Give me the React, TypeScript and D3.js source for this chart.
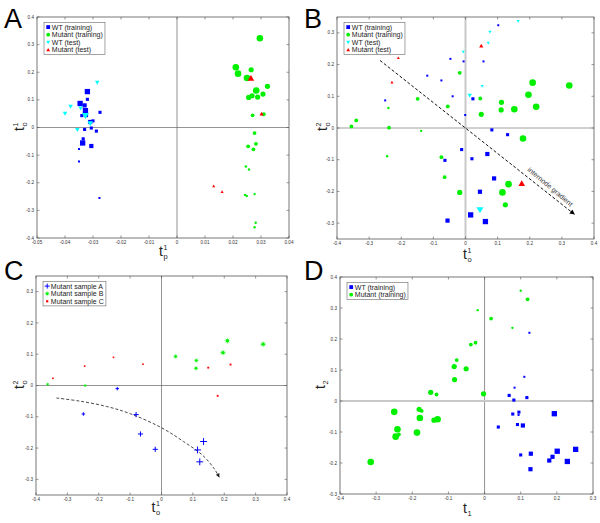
import { useEffect, useRef } from 'react';
import * as d3 from 'd3';

// [x, y, weight level 1..4] -- weight is drawn as marker size
type Pt = [number, number, number];
type Shape = 'square' | 'circle' | 'triDown' | 'triUp' | 'plus' | 'star' | 'dot';

// ---- Panel A ----
const aWtTrain: Pt[] = [
  [-0.032, 0.13, 4], [-0.032, 0.102, 2], [-0.0346, 0.087, 4], [-0.033, 0.08, 3],
  [-0.0327, 0.061, 4], [-0.034, 0.043, 2], [-0.0275, 0.055, 2], [-0.03, 0.024, 2],
  [-0.031, 0.02, 3], [-0.033, -0.007, 2], [-0.0306, -0.002, 2], [-0.0288, -0.013, 2],
  [-0.0337, -0.056, 4], [-0.0335, -0.041, 2], [-0.0306, -0.067, 3], [-0.035, -0.078, 1],
  [-0.035, -0.123, 1], [-0.0277, -0.255, 1], [-0.0325, 0.045, 3],
];
const aMutTrain: Pt[] = [
  [0.0296, 0.323, 4], [0.021, 0.218, 4], [0.0218, 0.195, 4], [0.0265, 0.209, 3],
  [0.025, 0.179, 4], [0.0323, 0.149, 3], [0.0283, 0.134, 4], [0.0307, 0.121, 3],
  [0.0268, 0.115, 3], [0.0288, 0.11, 3], [0.0256, 0.109, 3], [0.027, 0.044, 2],
  [0.031, 0.048, 2], [0.0277, -0.02, 2], [0.0282, -0.059, 2], [0.0254, -0.068, 2],
  [0.0273, -0.079, 2], [0.0246, -0.141, 1], [0.0257, -0.152, 1], [0.0243, -0.244, 1],
  [0.0249, -0.248, 1], [0.0277, -0.241, 1], [0.0281, -0.345, 1], [0.0277, -0.361, 1],
];
const aWtTest: Pt[] = [
  [-0.0285, 0.163, 2], [-0.038, 0.076, 2], [-0.04, 0.051, 2], [-0.0344, 0.07, 2],
  [-0.0327, 0.043, 4], [-0.031, 0.015, 3], [-0.0356, -0.008, 2],
];
const aMutTest: Pt[] = [
  [0.0264, 0.178, 4], [0.0302, 0.049, 2], [0.0131, -0.212, 1], [0.0161, -0.233, 1],
];

// ---- Panel B ----
const bWtTrain: Pt[] = [
  [0.102, 0.324, 1], [-0.047, 0.218, 1], [-0.006, 0.21, 1], [0.056, 0.21, 1],
  [-0.119, 0.165, 1], [-0.075, 0.15, 1], [-0.04, 0.1, 1], [-0.25, 0.087, 1],
  [0.023, 0.092, 2], [-0.001, 0.041, 1], [0.082, -0.006, 2], [0.131, -0.021, 2],
  [-0.012, -0.068, 2], [0.02, -0.097, 2], [-0.064, -0.102, 2], [0.068, -0.082, 3],
  [0.089, -0.159, 3], [0.045, -0.201, 3], [-0.056, -0.292, 3], [0.016, -0.274, 4],
  [0.062, -0.295, 4],
];
const bMutTrain: Pt[] = [
  [0.323, 0.134, 4], [0.209, 0.143, 4], [0.196, 0.105, 4], [0.22, 0.067, 4],
  [0.112, 0.081, 3], [0.111, 0.057, 3], [0.152, 0.059, 4], [0.046, 0.093, 2],
  [0.049, 0.043, 3], [-0.018, 0.174, 2], [-0.055, 0.068, 2], [-0.149, 0.092, 2],
  [-0.24, 0.063, 1], [-0.34, 0.024, 2], [-0.355, 0.005, 2], [-0.238, 0.001, 2],
  [-0.138, -0.009, 1], [-0.244, -0.089, 1], [-0.075, -0.092, 2], [-0.065, -0.155, 2],
  [0.179, -0.033, 4], [-0.018, -0.203, 3], [0.134, -0.177, 4], [0.115, -0.203, 4],
  [0.124, -0.242, 3],
];
const bWtTest: Pt[] = [
  [0.164, 0.337, 1], [0.076, 0.303, 1], [0.071, 0.268, 1], [-0.007, 0.24, 1],
  [0.052, 0.132, 1], [0.013, 0.103, 2], [0.045, -0.258, 4],
];
const bMutTest: Pt[] = [
  [0.049, 0.259, 2], [-0.209, 0.221, 1], [-0.229, 0.144, 1], [0.175, -0.175, 4],
];
const bArrow: [number, number][] = [[-0.266, 0.213], [0.339, -0.272]];

// ---- Panel C ----
const cSampleA: Pt[] = [
  [-0.141, -0.01, 1], [-0.249, -0.091, 1], [-0.081, -0.093, 2], [-0.067, -0.155, 2],
  [-0.02, -0.204, 2], [0.115, -0.206, 3], [0.134, -0.179, 3], [0.122, -0.244, 3],
];
const cSampleB: Pt[] = [
  [-0.363, 0.004, 1], [-0.243, 0.0, 1], [0.045, 0.093, 2], [0.111, 0.08, 2],
  [0.11, 0.055, 2], [0.196, 0.105, 3], [0.21, 0.143, 3], [0.324, 0.132, 3],
];
const cSampleC: Pt[] = [
  [-0.346, 0.023, 1], [-0.245, 0.062, 1], [-0.153, 0.09, 1], [-0.059, 0.068, 1],
  [0.149, 0.057, 2], [0.22, 0.067, 2], [0.179, -0.033, 2],
];
const cCurve: [number, number][] = [
  [-0.335, -0.04], [-0.26, -0.05], [-0.175, -0.067], [-0.1, -0.09], [0, -0.135],
  [0.07, -0.179], [0.131, -0.223], [0.168, -0.266], [0.184, -0.293],
];

// ---- Panel D ----
const dWtTrain: Pt[] = [
  [0.124, 0.22, 1], [0.11, 0.078, 1], [0.083, 0.043, 1], [0.068, 0.018, 2],
  [0.081, 0.003, 2], [0.117, 0.011, 2], [0.078, -0.042, 2], [0.095, -0.036, 2],
  [0.094, -0.045, 1], [0.038, -0.084, 2], [0.091, -0.076, 2], [0.106, -0.079, 3],
  [0.193, -0.041, 4], [0.1, -0.174, 2], [0.128, -0.17, 3], [0.179, -0.192, 3],
  [0.188, -0.18, 3], [0.201, -0.162, 4], [0.252, -0.156, 4], [0.229, -0.195, 4],
  [0.127, -0.22, 3],
];
const dMutTrain: Pt[] = [
  [0.1, 0.356, 1], [0.119, 0.328, 2], [-0.019, 0.293, 1], [0.018, 0.266, 2],
  [0.077, 0.236, 1], [-0.038, 0.182, 2], [-0.025, 0.188, 2], [-0.077, 0.132, 2],
  [-0.084, 0.111, 3], [-0.051, 0.104, 3], [-0.083, 0.069, 3], [-0.149, 0.028, 3],
  [-0.133, 0.021, 2], [-0.003, 0.023, 3], [-0.25, -0.035, 4], [-0.181, -0.027, 3],
  [-0.174, -0.032, 2], [-0.179, -0.055, 4], [-0.14, -0.062, 3], [-0.13, -0.059, 4],
  [-0.241, -0.091, 4], [-0.237, -0.108, 2], [-0.246, -0.115, 4], [-0.187, -0.102, 4],
  [-0.315, -0.197, 4],
];

// ticks
const ticksAX = [-0.05, -0.04, -0.03, -0.02, -0.01, 0, 0.01, 0.02, 0.03, 0.04];
const ticksAY = [-0.4, -0.3, -0.2, -0.1, 0, 0.1, 0.2, 0.3, 0.4];
const ticksBCX = [-0.4, -0.3, -0.2, -0.1, 0, 0.1, 0.2, 0.3, 0.4];
const ticksBCY = [-0.3, -0.2, -0.1, 0, 0.1, 0.2, 0.3];
const ticksDX = [-0.4, -0.3, -0.2, -0.1, 0, 0.1, 0.2, 0.3];
const ticksDY = [-0.3, -0.2, -0.1, 0, 0.1, 0.2, 0.3, 0.4];

const FONT = '"Liberation Sans", Arial, sans-serif';
const BLUE = '#0000ff';
const GREEN = '#00f000';
const CYAN = '#00ffff';
const RED = '#ff0000';

const sizeRange: Record<Shape, [number, number]> = {
  square: [2, 5.3],
  circle: [2.4, 6.6],
  triDown: [3.2, 7],
  triUp: [3, 6.6],
  plus: [3.5, 8.5],
  star: [3.2, 7.5],
  dot: [1.6, 2.4],
};

interface Series { pts: Pt[]; shape: Shape; color: string; label: string }
interface Panel {
  letter: string;
  box: [number, number, number, number];
  xDomain: [number, number];
  yDomain: [number, number];
  xTicks: number[];
  yTicks: number[];
  xLab: [string, string, string];
  yLab: [string, string, string];
  xLabPos: [number, number];
  yLabPos: [number, number];
  letterPos: [number, number];
  series: Series[];
  vLine: [string, number];
  hLine: [string, number];
}

type G = d3.Selection<SVGGElement, unknown, null, undefined>;

function marker(g: G, shape: Shape, x: number, y: number, s: number, color: string) {
  if (shape === 'square' || shape === 'dot') {
    g.append('rect').attr('x', x - s / 2).attr('y', y - s / 2)
      .attr('width', s).attr('height', s).attr('fill', color);
  } else if (shape === 'circle') {
    g.append('circle').attr('cx', x).attr('cy', y).attr('r', s / 2).attr('fill', color);
  } else if (shape === 'triDown') {
    g.append('path')
      .attr('d', `M${x - s / 2},${y - s * 0.38}L${x + s / 2},${y - s * 0.38}L${x},${y + s * 0.5}Z`)
      .attr('fill', color);
  } else if (shape === 'triUp') {
    g.append('path')
      .attr('d', `M${x - s / 2},${y + s * 0.38}L${x + s / 2},${y + s * 0.38}L${x},${y - s * 0.5}Z`)
      .attr('fill', color);
  } else if (shape === 'plus') {
    g.append('path')
      .attr('d', `M${x - s / 2},${y}H${x + s / 2}M${x},${y - s / 2}V${y + s / 2}`)
      .attr('stroke', color).attr('stroke-width', 1).attr('fill', 'none');
  } else if (shape === 'star') {
    const h = s / 2, d = s * 0.35;
    g.append('path')
      .attr('d', `M${x - h},${y}H${x + h}M${x},${y - h}V${y + h}M${x - d},${y - d}L${x + d},${y + d}M${x - d},${y + d}L${x + d},${y - d}`)
      .attr('stroke', color).attr('stroke-width', 0.6).attr('opacity', 0.7).attr('fill', 'none');
    g.append('circle').attr('cx', x).attr('cy', y).attr('r', s * 0.27).attr('fill', color);
  }
}

function axisLabel(svg: G, x: number, y: number, rot: number, lab: [string, string, string]) {
  const g = svg.append('g').attr('transform', `translate(${x},${y}) rotate(${rot})`)
    .style('font-family', FONT).attr('fill', '#222');
  g.append('text').attr('x', 1).attr('text-anchor', 'end').style('font-size', '14px').text(lab[0]);
  if (lab[1]) g.append('text').attr('x', 1.5).attr('y', 3).style('font-size', '7.5px').text(lab[1]);
  if (lab[2]) g.append('text').attr('x', 1.5).attr('y', -6).style('font-size', '7px').text(lab[2]);
}

const fmt = (d: number) => (Math.abs(d) < 1e-9 ? '0' : String(+d.toFixed(3)));

const panels: Panel[] = [
  {
    letter: 'A', box: [37, 17, 289, 238], xDomain: [-0.05, 0.04], yDomain: [-0.4, 0.4],
    xTicks: ticksAX, yTicks: ticksAY, xLab: ['t', 'p', '1'], yLab: ['t', 'o', '1'],
    xLabPos: [162, 256], yLabPos: [24, 128], letterPos: [4, 28],
    vLine: ['#666', 0.7], hLine: ['#666', 0.7],
    series: [
      { pts: aWtTrain, shape: 'square', color: BLUE, label: 'WT (training)' },
      { pts: aMutTrain, shape: 'circle', color: GREEN, label: 'Mutant (training)' },
      { pts: aWtTest, shape: 'triDown', color: CYAN, label: 'WT (test)' },
      { pts: aMutTest, shape: 'triUp', color: RED, label: 'Mutant (test)' },
    ],
  },
  {
    letter: 'B', box: [337, 17, 594, 239], xDomain: [-0.4, 0.4], yDomain: [-0.35, 0.35],
    xTicks: ticksBCX, yTicks: ticksBCY, xLab: ['t', 'o', '1'], yLab: ['t', 'o', '2'],
    xLabPos: [466, 259], yLabPos: [327, 128], letterPos: [304, 28],
    vLine: ['#c8c8c8', 2], hLine: ['#888', 0.8],
    series: [
      { pts: bWtTrain, shape: 'square', color: BLUE, label: 'WT (training)' },
      { pts: bMutTrain, shape: 'circle', color: GREEN, label: 'Mutant (training)' },
      { pts: bWtTest, shape: 'triDown', color: CYAN, label: 'WT (test)' },
      { pts: bMutTest, shape: 'triUp', color: RED, label: 'Mutant (test)' },
    ],
  },
  {
    letter: 'C', box: [36, 276, 287, 495], xDomain: [-0.4, 0.4], yDomain: [-0.35, 0.35],
    xTicks: ticksBCX, yTicks: ticksBCY, xLab: ['t', 'o', '1'], yLab: ['t', 'o', '2'],
    xLabPos: [154.5, 512], yLabPos: [24, 386], letterPos: [4, 280],
    vLine: ['#666', 0.7], hLine: ['#666', 0.7],
    series: [
      { pts: cSampleA, shape: 'plus', color: BLUE, label: 'Mutant sample A' },
      { pts: cSampleB, shape: 'star', color: GREEN, label: 'Mutant sample B' },
      { pts: cSampleC, shape: 'dot', color: RED, label: 'Mutant sample C' },
    ],
  },
  {
    letter: 'D', box: [340, 277, 593, 494], xDomain: [-0.4, 0.3], yDomain: [-0.3, 0.4],
    xTicks: ticksDX, yTicks: ticksDY, xLab: ['t', '1', ''], yLab: ['t', '2', ''],
    xLabPos: [466, 513], yLabPos: [325, 386], letterPos: [304, 280],
    vLine: ['#777', 0.8], hLine: ['#c8c8c8', 1.8],
    series: [
      { pts: dWtTrain, shape: 'square', color: BLUE, label: 'WT (training)' },
      { pts: dMutTrain, shape: 'circle', color: GREEN, label: 'Mutant (training)' },
    ],
  },
];

const App = () => {
  const ref = useRef<SVGSVGElement | null>(null);

  useEffect(() => {
    if (!ref.current) return;
    const root = d3.select(ref.current);
    root.selectAll('*').remove();
    const svg = root.append('g') as G;

    const defs = root.append('defs');
    defs.append('marker').attr('id', 'headB').attr('viewBox', '0 0 10 10')
      .attr('refX', 9).attr('refY', 5).attr('markerWidth', 7).attr('markerHeight', 5)
      .attr('markerUnits', 'userSpaceOnUse').attr('orient', 'auto')
      .append('path').attr('d', 'M0,0L10,5L0,10Z').attr('fill', '#000');
    defs.append('marker').attr('id', 'headC').attr('viewBox', '0 0 10 10')
      .attr('refX', 9).attr('refY', 5).attr('markerWidth', 5).attr('markerHeight', 4)
      .attr('markerUnits', 'userSpaceOnUse').attr('orient', 'auto')
      .append('path').attr('d', 'M0,0L10,5L0,10Z').attr('fill', '#222');

    panels.forEach((p) => {
      const [l, t, r, b] = p.box;
      const x = d3.scaleLinear().domain(p.xDomain).range([l, r]);
      const y = d3.scaleLinear().domain(p.yDomain).range([b, t]);
      const g = svg.append('g') as G;

      // frame
      g.append('rect').attr('x', l).attr('y', t).attr('width', r - l).attr('height', b - t)
        .attr('fill', '#fff');

      // zero lines
      g.append('line').attr('x1', x(0)).attr('x2', x(0)).attr('y1', t).attr('y2', b)
        .attr('stroke', p.vLine[0]).attr('stroke-width', p.vLine[1]);
      g.append('line').attr('x1', l).attr('x2', r).attr('y1', y(0)).attr('y2', y(0))
        .attr('stroke', p.hLine[0]).attr('stroke-width', p.hLine[1]);

      // annotations
      if (p.letter === 'B') {
        g.append('line')
          .attr('x1', x(bArrow[0][0])).attr('y1', y(bArrow[0][1]))
          .attr('x2', x(bArrow[1][0])).attr('y2', y(bArrow[1][1]))
          .attr('stroke', '#111').attr('stroke-width', 1).attr('stroke-dasharray', '3,2')
          .attr('marker-end', 'url(#headB)');
        const x0 = x(bArrow[0][0]), y0 = y(bArrow[0][1]);
        const x1 = x(bArrow[1][0]), y1 = y(bArrow[1][1]);
        const len = Math.hypot(x1 - x0, y1 - y0);
        const ux = (x1 - x0) / len, uy = (y1 - y0) / len;
        const f = 0.855;
        const tx = x0 + (x1 - x0) * f + uy * 6.5;
        const ty = y0 + (y1 - y0) * f - ux * 6.5;
        g.append('text').attr('transform', `translate(${tx},${ty}) rotate(40)`)
          .attr('text-anchor', 'middle').attr('dy', '0.35em')
          .style('font-family', FONT).style('font-size', '7px').attr('fill', '#333')
          .text('internode gradient');
      }
      if (p.letter === 'C') {
        const line = d3.line<[number, number]>().x(d => x(d[0])).y(d => y(d[1]))
          .curve(d3.curveCatmullRom);
        g.append('path').attr('d', line(cCurve)).attr('fill', 'none')
          .attr('stroke', '#333').attr('stroke-width', 0.9).attr('stroke-dasharray', '3,2')
          .attr('marker-end', 'url(#headC)');
      }

      // points
      p.series.forEach((s) => {
        const sz = d3.scaleLinear().domain([1, 4]).range(sizeRange[s.shape]);
        s.pts.forEach((d) => marker(g, s.shape, x(d[0]), y(d[1]), sz(d[2]), s.color));
      });

      // frame border + ticks
      g.append('rect').attr('x', l).attr('y', t).attr('width', r - l).attr('height', b - t)
        .attr('fill', 'none').attr('stroke', '#555').attr('stroke-width', 0.8);
      const tk = 2.5;
      p.xTicks.forEach((v) => {
        g.append('path').attr('d', `M${x(v)},${b}v${-tk}M${x(v)},${t}v${tk}`)
          .attr('stroke', '#555').attr('stroke-width', 0.6);
        g.append('text').attr('x', x(v)).attr('y', b + 5.5).attr('text-anchor', 'middle')
          .style('font-family', FONT).style('font-size', '4.6px').attr('fill', '#333')
          .text(fmt(v));
      });
      p.yTicks.forEach((v) => {
        g.append('path').attr('d', `M${l},${y(v)}h${tk}M${r},${y(v)}h${-tk}`)
          .attr('stroke', '#555').attr('stroke-width', 0.6);
        g.append('text').attr('x', l - 3).attr('y', y(v) + 1.6).attr('text-anchor', 'end')
          .style('font-family', FONT).style('font-size', '4.6px').attr('fill', '#333')
          .text(fmt(v));
      });

      // legend
      const lg = g.append('g').attr('transform', `translate(${l + 7},${t + 5.5})`) as G;
      const box = lg.append('rect').attr('fill', '#fff').attr('stroke', '#666')
        .attr('stroke-width', 0.6);
      let maxW = 0;
      p.series.forEach((s, i) => {
        const cy = 4.6 + i * 7.6;
        const ms = s.shape === 'dot' ? 2.2 : s.shape === 'plus' || s.shape === 'star' ? 5 : 3.8;
        marker(lg, s.shape, 4.2, cy, ms, s.color);
        const tx = lg.append('text').attr('x', 7.8).attr('y', cy + 2.4)
          .style('font-family', FONT).style('font-size', '7px').attr('fill', '#222')
          .text(s.label);
        const node = tx.node() as SVGTextElement;
        maxW = Math.max(maxW, node.getComputedTextLength());
      });
      box.attr('width', maxW + 10).attr('height', p.series.length * 7.6 + 1.6);

      // axis labels and panel letter
      axisLabel(svg, p.xLabPos[0], p.xLabPos[1], 0, p.xLab);
      axisLabel(svg, p.yLabPos[0], p.yLabPos[1], -90, p.yLab);
      svg.append('text').attr('x', p.letterPos[0]).attr('y', p.letterPos[1])
        .style('font-family', FONT).style('font-size', '27px').attr('fill', '#000')
        .text(p.letter);
    });
  }, []);

  return (
    <svg
      ref={ref}
      width={600}
      height={523}
      style={{ position: 'absolute', left: 0, top: 0, background: '#fff' }}
    />
  );
};

export default App;
